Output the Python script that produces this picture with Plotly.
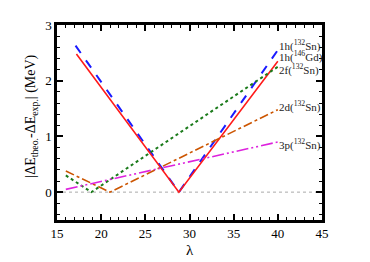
import plotly.graph_objects as go

# Data (lambda, |dE|)
x_1h132 = [17.1, 28.8, 40.0]
y_1h132 = [2.63, 0.0, 2.55]
x_1h146 = [17.2, 28.8, 40.0]
y_1h146 = [2.48, 0.0, 2.35]
x_2f = [16.0, 18.9, 40.0]
y_2f = [0.30, 0.0, 2.25]
x_2d = [16.0, 21.0, 40.0]
y_2d = [0.38, 0.0, 1.48]
x_3p = [16.0, 40.0]
y_3p = [0.05, 0.90]

labels = ["1h(<sup>132</sup>Sn)", "1h(<sup>146</sup>Gd)", "2f(<sup>132</sup>Sn)",
          "2d(<sup>132</sup>Sn)", "3p(<sup>132</sup>Sn)"]
label_y = [2.64, 2.44, 2.21, 1.54, 0.86]

FONT = "Liberation Serif, Times New Roman, DejaVu Serif, serif"
fig = go.Figure()
fig.add_shape(type="line", x0=15, x1=45, y0=0, y1=0,
              line=dict(color="#aaaaaa", width=1, dash="dot"), layer="below")
fig.add_trace(go.Scatter(x=x_1h132, y=y_1h132, mode="lines",
                         line=dict(color="#1a1aff", width=2, dash="dash")))
fig.add_trace(go.Scatter(x=x_1h146, y=y_1h146, mode="lines",
                         line=dict(color="#ff1a1a", width=1.6)))
fig.add_trace(go.Scatter(x=x_2f, y=y_2f, mode="lines",
                         line=dict(color="#1a7a1a", width=2, dash="dot")))
fig.add_trace(go.Scatter(x=x_2d, y=y_2d, mode="lines",
                         line=dict(color="#cc5500", width=1.6, dash="dashdot")))
fig.add_trace(go.Scatter(x=x_3p, y=y_3p, mode="lines",
                         line=dict(color="#dd22dd", width=1.6, dash="12px,3px,2px,3px,2px,3px")))

for t, yy in zip(labels, label_y):
    fig.add_annotation(x=40.0, y=yy, text=t, showarrow=False, xanchor="left",
                       borderpad=0, font=dict(family=FONT, size=11, color="#222222"))

# axis titles
fig.add_annotation(xref="paper", yref="paper", x=0, y=0.53, xshift=-25,
                   text="|ΔE<sub>theo.</sub>-ΔE<sub>exp.</sub>| (MeV)", textangle=-90,
                   showarrow=False, xanchor="center", yanchor="middle",
                   font=dict(family=FONT, size=14, color="black"))
fig.add_annotation(xref="paper", yref="paper", x=0.5, y=0, yshift=-20,
                   text="λ", showarrow=False, xanchor="center", yanchor="top",
                   font=dict(family=FONT, size=15, color="black"))

axis_common = dict(showline=True, linecolor="black", linewidth=2.5, mirror="allticks",
                   ticks="inside", tickcolor="black", tickwidth=1.5, ticklen=6,
                   showgrid=False, zeroline=False, automargin=False,
                   tickfont=dict(family=FONT, size=13, color="black"))
fig.update_xaxes(range=[15, 45], tickvals=[15, 20, 25, 30, 35, 40, 45],
                 minor=dict(dtick=1, tick0=15, ticks="inside", ticklen=3, tickcolor="black", tickwidth=1),
                 **axis_common)
fig.update_yaxes(range=[-0.5, 3], tickvals=[0, 1, 2, 3],
                 minor=dict(dtick=0.2, tick0=0, ticks="inside", ticklen=3, tickcolor="black", tickwidth=1),
                 **axis_common)
fig.update_layout(width=362, height=254, margin=dict(l=49, r=48, t=17, b=42),
                  plot_bgcolor="white", paper_bgcolor="white", showlegend=False)
fig.write_html("out.html")
